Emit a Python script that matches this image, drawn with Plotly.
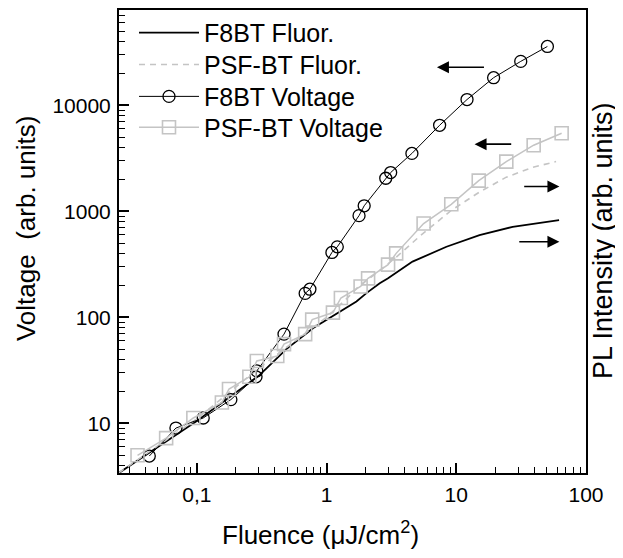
import plotly.graph_objects as go

# ---- data ----
f8bt_volt_x = [0.043, 0.069, 0.112, 0.183, 0.286, 0.29, 0.47, 0.684, 0.744, 1.10, 1.21,
               1.78, 1.95, 2.86, 3.12, 4.55, 7.44, 12.1, 19.4, 31.4, 50.4]
f8bt_volt_y = [4.9, 9.0, 11.2, 16.7, 27.4, 31.2, 69.3, 168, 184, 409, 462,
               910, 1127, 2051, 2322, 3519, 6486, 11350, 18240, 26000, 35970]

psfbt_volt_x = [0.0349, 0.058, 0.094, 0.156, 0.177, 0.254, 0.29, 0.417, 0.47, 0.684, 0.775,
                1.12, 1.29, 1.83, 2.09, 2.98, 3.44, 5.6, 9.15, 14.9, 24.3, 39.5, 64.9]
psfbt_volt_y = [4.98, 7.23, 11.2, 15.7, 21.0, 27.4, 38.7, 43.1, 55.8, 69.3, 95,
                110.7, 152, 195, 233, 314, 401, 766, 1164, 1950, 2944, 4207, 5458]

f8bt_fluor_x = [0.025, 0.1, 0.3, 0.49, 0.79, 1.06, 1.7, 2.03, 2.57, 2.96, 3.25, 4.6, 8.4, 15.1, 27.2, 62]
f8bt_fluor_y = [3.38, 10.5, 28, 50, 79, 98, 141, 169, 209, 232, 251, 335, 463, 596, 713, 824]

psfbt_fluor_x = [0.025, 0.1, 0.3, 0.7, 1.0, 1.43, 1.8, 2.42, 3.45, 5.3, 9.15, 15.1, 24.3, 38.8, 58.8]
psfbt_fluor_y = [3.4, 11, 33, 72, 100, 150, 200, 260, 370, 590, 1020, 1520, 2100, 2600, 2950]

x_tickvals = [0.1, 1, 10, 100]
x_ticktext = ["0,1", "1", "10", "100"]
y_tickvals = [10, 100, 1000, 10000]
y_ticktext = ["10", "100", "1000", "10000"]

FONT = "Arial, Liberation Sans, sans-serif"
GRAY = "#c4c4c4"

# page body has an 8px margin: the figure is laid out so the plot lands where the reference has it
OFF = 8
PL, PR, PT, PB = 119 - OFF, 586 - OFF, 7 - OFF, 473 - OFF
W, H = 623, 558
PT = max(PT, 0)
PW, PH = PR - PL, PB - PT


def px_x(sx):  # screen x -> paper
    return (sx - OFF - PL) / PW


def px_y(sy):  # screen y -> paper
    return (PB - (sy - OFF)) / PH


fig = go.Figure()
fig.add_trace(go.Scatter(x=f8bt_fluor_x, y=f8bt_fluor_y, mode="lines", name="F8BT Fluor.",
                         line=dict(color="black", width=1.8), legend="legend"))
fig.add_trace(go.Scatter(x=psfbt_fluor_x, y=psfbt_fluor_y, mode="lines", name="PSF-BT Fluor.",
                         line=dict(color=GRAY, width=1.6, dash="6px,5px"), legend="legend2"))
fig.add_trace(go.Scatter(x=f8bt_volt_x, y=f8bt_volt_y, mode="lines+markers", name="F8BT Voltage",
                         line=dict(color="black", width=1),
                         marker=dict(symbol="circle-open", size=12, color="black",
                                     line=dict(width=1.3, color="black")), legend="legend3"))
fig.add_trace(go.Scatter(x=psfbt_volt_x, y=psfbt_volt_y, mode="lines+markers", name="PSF-BT Voltage",
                         line=dict(color=GRAY, width=1.5),
                         marker=dict(symbol="square-open", size=13, color=GRAY,
                                     line=dict(width=1.6, color=GRAY)), legend="legend4"))


def minor_vals(lo, hi):
    out = []
    for d in range(lo, hi):
        for k in range(2, 10):
            out.append(k * 10 ** d)
    return out


axis_common = dict(type="log", showline=True, linecolor="black", linewidth=2, mirror=True,
                   ticks="inside", ticklen=10, tickwidth=1.6, tickcolor="black",
                   showgrid=False, zeroline=False,
                   tickfont=dict(family=FONT, size=21, color="black"))

leg_rows = [31, 63, 95, 126]
legends = {}
for i, ry in enumerate(leg_rows):
    key = "legend" if i == 0 else f"legend{i + 1}"
    legends[key] = dict(x=px_x(134), y=px_y(ry), xanchor="left", yanchor="middle",
                        bgcolor="rgba(0,0,0,0)", borderwidth=0,
                        font=dict(family=FONT, size=25, color="black"), itemwidth=60)

fig.update_layout(
    width=W, height=H,
    margin=dict(l=PL, r=W - PR, t=PT, b=H - PB),
    paper_bgcolor="white", plot_bgcolor="white",
    font=dict(family=FONT, color="black"),
    xaxis=dict(range=[-1.6, 2.0], tickmode="array", tickvals=x_tickvals, ticktext=x_ticktext,
               ticklabelstandoff=2,
               minor=dict(ticks="inside", ticklen=6, tickwidth=1.4, tickcolor="black",
                          tickvals=minor_vals(-2, 2)),
               **axis_common),
    yaxis=dict(range=[0.53, 4.9], tickmode="array", tickvals=y_tickvals, ticktext=y_ticktext,
               ticklabelstandoff=2,
               minor=dict(ticks="inside", ticklen=6, tickwidth=1.4, tickcolor="black",
                          tickvals=minor_vals(0, 5)),
               **axis_common),
    showlegend=True,
    **legends,
)

arrows = [
    (0.851, 4.359, 1.225, 4.359),
    (1.141, 3.634, 1.435, 3.634),
    (1.795, 3.234, 1.512, 3.234),
    (1.795, 2.712, 1.474, 2.712),
]
for hx, hy, tx, ty in arrows:
    fig.add_annotation(x=hx, y=hy, ax=tx, ay=ty, xref="x", yref="y", axref="x", ayref="y",
                       text="", showarrow=True, arrowhead=2, arrowsize=1.5, arrowwidth=1.6,
                       arrowcolor="black")

fig.add_annotation(text="Fluence (\u03bcJ/cm<sup>2</sup>)", xref="paper", yref="paper",
                   x=px_x(320), y=px_y(534), xanchor="center", yanchor="middle",
                   showarrow=False, font=dict(family=FONT, size=26, color="black"))
fig.add_annotation(text="Voltage\u00a0 (arb. units)", xref="paper", yref="paper",
                   x=px_x(26), y=px_y(228), xanchor="center", yanchor="middle",
                   textangle=-90, showarrow=False, font=dict(family=FONT, size=26, color="black"))
fig.add_annotation(text="PL Intensity (arb. units)", xref="paper", yref="paper",
                   x=px_x(603), y=px_y(240), xanchor="center", yanchor="middle",
                   textangle=-90, showarrow=False, font=dict(family=FONT, size=27, color="black"))

fig.write_html("out.html")
